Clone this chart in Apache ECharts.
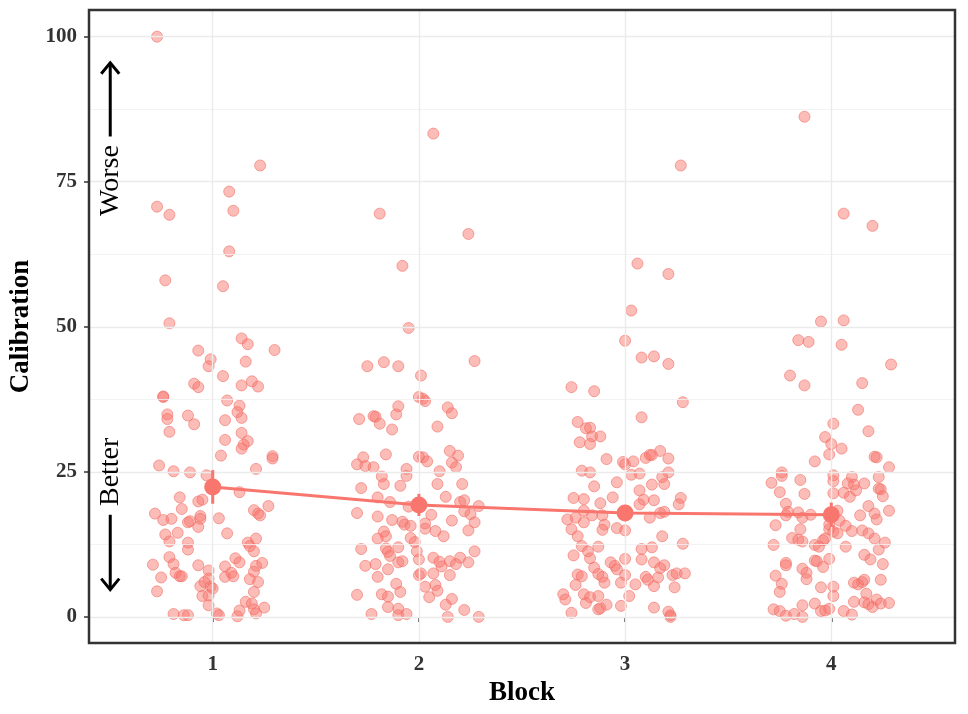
<!DOCTYPE html>
<html>
<head>
<meta charset="utf-8">
<script src="https://cdn.jsdelivr.net/npm/echarts@6/dist/echarts.min.js"></script>
<style>
html, body { margin: 0; background: #fff; }
#chart { width: 968px; height: 714px; }
</style>
</head>
<body>
<div id="chart"></div>
<script>
// jittered points per block: [x, calibration]
var block1 = [
  [0.73,100],[0.73,70.7],[0.79,69.3],[1.08,73.3],[1.10,70.0],[1.23,77.8],[1.08,63.0],[0.77,58.0],[1.05,57.0],
  [0.79,50.6],[1.14,48.0],[1.17,47.0],[1.30,46.0],[0.93,45.9],[0.99,44.4],[0.98,43.2],[1.16,44.0],[1.05,41.5],[0.91,40.2],
  [0.93,39.6],[1.14,39.9],[1.19,40.6],[1.22,39.7],[0.76,38.0],[0.76,37.9],[1.07,37.3],[1.13,36.4],[1.12,35.3],[1.14,34.3],
  [0.78,34.9],[0.78,34.1],[0.88,34.7],[0.91,33.2],[1.06,33.9],[0.79,31.9],[1.14,31.7],[1.06,30.5],[1.17,30.3],[1.15,29.7],
  [1.14,29.0],[1.04,27.8],[1.29,27.7],[1.29,27.3],[0.74,26.1],[0.81,25.1],[0.89,24.9],[1.21,25.5],[0.97,24.4],[1.13,21.5],
  [0.84,20.6],[0.93,19.9],[0.95,20.2],[0.85,18.6],[0.72,17.8],[0.76,16.7],[0.80,16.9],[0.88,16.3],[0.89,16.5],[0.94,17.4],
  [0.94,16.9],[0.93,15.5],[1.03,17.0],[1.20,18.4],[1.22,17.8],[1.23,17.5],[1.27,19.1],[0.77,14.2],[0.79,13.0],[0.83,14.5],
  [0.88,12.8],[0.88,11.6],[1.07,14.4],[1.17,12.8],[1.18,12.2],[1.20,11.3],[1.21,13.5],[0.79,10.3],[0.81,9.1],[0.71,9.0],
  [0.93,8.9],[0.75,6.8],[0.82,7.6],[0.84,7.0],[0.85,7.0],[0.98,8.0],[1.06,8.7],[1.11,10.1],[1.13,9.4],[1.21,8.8],
  [1.24,9.3],[1.20,7.8],[1.06,6.9],[1.09,7.6],[1.10,7.0],[1.18,6.5],[1.22,6.0],[0.98,6.6],[0.96,6.0],[0.94,5.3],
  [0.99,5.2],[1.00,4.9],[0.73,4.4],[0.95,3.6],[0.98,3.7],[1.20,4.3],[0.98,2.0],[1.16,2.6],[1.19,2.3],[1.20,1.3],
  [1.25,1.6],[1.13,1.1],[1.12,0.1],[1.21,0.6],[0.81,0.5],[0.86,0.3],[0.88,0.3],[1.02,0.6],[1.03,0.3]
];
var block2 = [
  [2.07,83.3],[1.81,69.5],[1.92,60.5],[2.24,66.0],
  [1.95,49.8],[1.75,43.2],[1.83,43.9],[1.90,43.2],[2.27,44.1],[2.01,41.6],[2.00,37.9],[2.02,37.6],[2.03,37.2],[1.90,36.3],
  [1.89,34.9],[1.71,34.1],[1.78,34.6],[1.79,34.5],[1.81,33.3],[1.87,32.3],[2.09,32.8],[2.14,36.1],[2.16,35.1],[2.15,28.6],
  [2.19,27.8],[2.16,26.6],[2.18,25.8],[1.84,28.0],[1.73,27.5],[1.70,26.3],[1.74,26.0],[1.78,25.8],[2.00,27.6],[2.02,27.5],
  [2.04,26.8],[1.94,25.5],[1.94,24.3],[1.82,24.2],[1.83,22.9],[2.10,25.1],[1.91,22.6],[2.09,22.9],[2.21,22.9],[1.72,22.2],
  [2.13,20.7],[1.80,20.6],[1.86,19.8],[1.95,19.0],[2.20,19.8],[2.22,20.1],[2.29,19.1],[2.22,18.2],[2.25,17.7],[2.06,17.6],
  [1.70,17.9],[1.80,17.3],[1.87,16.7],[1.92,16.4],[1.93,15.9],[1.96,15.7],[2.03,16.1],[2.03,15.2],[2.08,14.8],[2.12,13.9],
  [2.16,16.6],[2.27,16.3],[2.24,14.9],[1.83,14.7],[1.84,13.9],[1.80,13.5],[1.96,13.6],[1.98,12.9],[1.72,11.7],[1.84,11.8],
  [1.85,11.2],[1.90,12.0],[1.99,11.3],[2.27,11.3],[1.86,10.5],[1.90,9.4],[1.92,9.6],[2.00,9.9],[2.07,10.2],[2.10,9.5],
  [2.11,8.7],[2.15,9.6],[2.18,9.1],[2.20,10.2],[2.24,9.4],[1.74,8.8],[1.79,9.1],[1.85,8.2],[1.80,6.9],[2.00,7.2],
  [2.01,7.5],[2.07,7.5],[2.15,7.2],[1.89,5.7],[1.91,4.3],[2.03,5.2],[2.08,5.5],[2.09,4.5],[1.70,3.8],[1.82,3.9],
  [1.85,3.5],[2.05,3.4],[2.16,3.1],[2.13,2.1],[1.85,1.7],[1.90,1.4],[1.90,0.3],[1.94,0.5],[1.77,0.5],[2.14,0.0],
  [2.22,1.2],[2.29,0.0]
];
var block3 = [
  [3.27,77.8],[3.06,60.9],[3.21,59.1],[3.03,52.8],
  [3.00,47.6],[3.08,44.7],[3.14,44.9],[3.21,43.6],[2.74,39.6],[2.85,38.9],[3.28,37.0],[3.08,34.4],[2.77,33.6],[2.81,32.5],
  [2.83,32.6],[2.84,31.1],[2.88,31.1],[2.78,30.1],[2.83,29.8],[2.91,27.2],[2.99,26.7],[3.00,26.3],[3.04,26.8],[3.10,27.4],
  [3.12,27.9],[3.13,27.9],[3.17,28.6],[3.21,27.3],[2.79,25.2],[2.83,24.9],[3.03,24.5],[3.07,24.7],[3.21,24.9],[3.18,24.1],
  [3.19,22.9],[2.96,23.2],[2.85,22.5],[3.13,22.8],[3.07,21.8],[2.75,20.5],[2.80,20.3],[2.94,20.6],[3.09,20.2],[3.14,20.1],
  [3.27,20.5],[3.26,19.4],[2.88,19.6],[3.07,19.4],[2.80,18.3],[3.17,17.9],[3.19,18.1],[2.72,16.8],[2.76,17.1],[2.80,16.3],
  [2.84,17.5],[2.89,17.5],[2.90,15.9],[2.89,15.0],[2.96,15.3],[3.00,14.9],[3.12,17.1],[2.74,15.1],[2.77,13.9],[3.18,13.9],
  [2.79,12.2],[2.82,11.3],[2.87,12.1],[3.08,11.7],[3.13,12.0],[3.28,12.6],[2.75,10.6],[2.83,10.1],[3.00,10.0],[3.08,9.9],
  [2.93,9.4],[2.95,8.8],[3.14,9.4],[3.19,8.9],[3.17,8.4],[2.85,8.5],[2.96,8.2],[2.77,7.3],[2.79,7.0],[2.87,7.4],
  [2.89,6.9],[3.00,7.2],[2.98,5.9],[2.90,5.9],[3.05,5.6],[3.10,6.9],[3.11,6.4],[3.16,6.8],[3.23,7.2],[3.25,7.5],
  [3.29,7.5],[2.76,5.5],[3.14,5.3],[3.24,5.1],[2.70,3.9],[2.71,3.0],[2.80,3.9],[2.83,3.4],[2.81,2.4],[2.87,3.6],
  [3.02,3.6],[2.91,2.1],[2.98,1.9],[2.87,1.3],[2.88,1.5],[2.74,0.7],[3.14,1.6],[3.21,0.9],[3.22,0.3],[3.22,0.0]
];
var block4 = [
  [3.87,86.2],[4.06,69.5],[4.20,67.4],
  [3.95,50.9],[4.06,51.1],[3.84,47.7],[3.89,47.4],[4.05,46.9],[4.29,43.5],[3.80,41.6],[3.87,39.9],[4.15,40.3],[4.13,35.7],
  [4.01,33.3],[4.18,32.0],[3.97,31.0],[4.00,29.8],[4.05,29.0],[3.99,28.0],[4.21,27.6],[4.22,27.5],[3.92,26.8],[4.28,25.8],
  [3.76,24.9],[3.76,24.3],[3.71,23.1],[3.85,23.6],[4.01,24.4],[4.01,23.4],[4.10,24.1],[4.08,23.0],[4.11,22.8],[4.16,23.0],
  [4.23,24.1],[4.23,22.1],[4.24,22.0],[4.25,20.8],[3.75,21.5],[3.87,21.2],[4.01,21.3],[4.06,21.4],[4.12,21.8],[4.09,20.7],
  [3.78,19.5],[4.18,19.1],[3.79,18.1],[3.84,18.0],[3.86,17.1],[3.90,17.6],[3.78,17.5],[4.03,18.3],[4.14,17.5],[4.21,17.8],
  [4.22,16.8],[4.28,18.3],[3.73,15.8],[3.99,15.9],[4.04,16.6],[4.07,15.7],[3.85,15.1],[3.99,15.1],[4.01,14.7],[4.03,14.4],
  [4.10,14.8],[4.15,14.9],[4.18,14.4],[4.21,13.5],[3.81,13.6],[3.84,13.3],[3.86,13.0],[3.97,13.5],[3.96,13.2],[3.72,12.4],
  [3.92,12.4],[3.94,12.1],[4.07,12.1],[4.26,12.8],[4.23,11.6],[4.16,10.7],[4.19,9.9],[4.25,9.1],[3.99,10.0],[3.92,9.7],
  [3.93,9.6],[3.96,8.6],[3.78,9.3],[3.78,8.9],[3.86,8.3],[3.88,7.6],[3.88,6.5],[3.73,7.1],[3.76,5.7],[3.75,4.3],
  [3.95,5.1],[4.01,5.2],[4.01,3.6],[4.11,5.9],[4.13,5.6],[4.15,6.0],[4.16,6.4],[4.24,6.4],[4.17,4.0],[4.11,2.6],
  [4.16,2.5],[4.18,2.2],[4.20,1.7],[4.22,3.0],[4.24,2.3],[4.28,2.4],[3.86,2.0],[3.92,2.3],[3.72,1.3],[3.75,1.0],
  [3.78,0.2],[3.82,0.5],[3.86,0.0],[3.95,1.0],[3.97,1.1],[3.99,1.4],[4.06,1.0],[4.10,0.4]
];

var blocks = [1, 2, 3, 4];
var blockMeans = [22.4, 19.3, 17.9, 17.6];
var blockErrors = [2.9, 1.9, 1.4, 2.1];
var yTicks = [0, 25, 50, 75, 100];
var yMinorGrid = [12.5, 37.5, 62.5, 87.5];

var RED = '#F8766D';
var SERIF = '"Liberation Serif", "Times New Roman", serif';

var chart = echarts.init(document.getElementById('chart'), null, { renderer: 'canvas' });

function pointSeries(data) {
  return {
    type: 'scatter',
    data: data,
    symbolSize: 11,
    itemStyle: {
      color: 'rgba(248,118,109,0.6)',
      borderColor: 'rgba(240,110,100,0.75)',
      borderWidth: 1
    },
    z: 3,
    silent: true
  };
}

var gridLines = [];
yTicks.forEach(function (v) {
  gridLines.push({ yAxis: v, lineStyle: { type: 'solid', color: '#EBEBEB', width: 1.4 } });
});
yMinorGrid.forEach(function (v) {
  gridLines.push({ yAxis: v, lineStyle: { type: 'solid', color: '#F0F0F0', width: 0.8 } });
});
blocks.forEach(function (v) {
  gridLines.push({ xAxis: v, lineStyle: { type: 'solid', color: '#EBEBEB', width: 1.4 } });
});

var meanData = blocks.map(function (b, i) { return [b, blockMeans[i]]; });
var errData = blocks.map(function (b, i) {
  return [b, blockMeans[i] - blockErrors[i], blockMeans[i] + blockErrors[i]];
});

var option = {
  animation: false,
  backgroundColor: '#fff',
  grid: {
    left: 89, right: 13, top: 10, bottom: 71,
    outerBoundsMode: 'none',
    containLabel: false,
    show: true,
    borderColor: '#333',
    borderWidth: 2.5,
    backgroundColor: 'transparent',
    z: 10
  },
  xAxis: {
    type: 'value',
    min: 0.4,
    max: 4.6,
    name: 'Block',
    nameLocation: 'middle',
    nameGap: 37,
    nameTextStyle: { fontFamily: SERIF, fontWeight: 'bold', fontSize: 27, color: '#000' },
    axisLine: { show: false },
    axisTick: { show: true, length: 5, customValues: blocks, lineStyle: { color: '#333', width: 1.5 } },
    axisLabel: {
      customValues: blocks,
      margin: 11,
      fontFamily: SERIF, fontWeight: 'bold', fontSize: 21, color: '#333'
    },
    splitLine: { show: false }
  },
  yAxis: {
    type: 'value',
    min: -4.5,
    max: 104.6,
    name: 'Calibration',
    nameLocation: 'middle',
    nameGap: 52,
    nameRotate: 90,
    nameTextStyle: { fontFamily: SERIF, fontWeight: 'bold', fontSize: 27, color: '#000' },
    axisLine: { show: false },
    axisTick: { show: true, length: 5, customValues: yTicks, lineStyle: { color: '#333', width: 1.5 } },
    axisLabel: {
      customValues: yTicks,
      margin: 12,
      fontFamily: SERIF, fontWeight: 'bold', fontSize: 21, color: '#333'
    },
    splitLine: { show: false }
  },
  series: [
    {
      type: 'line',
      data: [],
      silent: true,
      markLine: {
        silent: true,
        symbol: ['none', 'none'],
        label: { show: false },
        data: gridLines
      },
      z: 1
    },
    pointSeries(block1),
    pointSeries(block2),
    pointSeries(block3),
    pointSeries(block4),
    {
      type: 'custom',
      data: errData,
      z: 5,
      silent: true,
      renderItem: function (params, api) {
        var lo = api.coord([api.value(0), api.value(1)]);
        var hi = api.coord([api.value(0), api.value(2)]);
        return {
          type: 'line',
          shape: { x1: lo[0], y1: lo[1], x2: hi[0], y2: hi[1] },
          style: { stroke: RED, lineWidth: 3 }
        };
      }
    },
    {
      type: 'line',
      data: meanData,
      symbol: 'circle',
      symbolSize: 17,
      lineStyle: { color: RED, width: 3 },
      itemStyle: { color: RED },
      z: 6,
      silent: true
    }
  ]
};

chart.setOption(option);

// "Worse" / "Better" annotations placed in data space
function arrow(x, yFrom, yTo) {
  var a = chart.convertToPixel({ gridIndex: 0 }, [x, yFrom]);
  var b = chart.convertToPixel({ gridIndex: 0 }, [x, yTo]);
  var dir = b[1] < a[1] ? 1 : -1;
  return [
    { type: 'polyline', shape: { points: [a, b] }, style: { stroke: '#000', lineWidth: 3, fill: null }, z: 20 },
    { type: 'polyline', shape: { points: [[b[0] - 9, b[1] + dir * 11], [b[0], b[1]], [b[0] + 9, b[1] + dir * 11]] },
      style: { stroke: '#000', lineWidth: 3, fill: null, lineJoin: 'miter' }, z: 20 }
  ];
}
function label(text, x, y) {
  var p = chart.convertToPixel({ gridIndex: 0 }, [x, y]);
  return {
    type: 'text', x: p[0], y: p[1], rotation: Math.PI / 2, z: 20,
    style: { text: text, fontFamily: SERIF, fontSize: 28, fill: '#000', align: 'center', verticalAlign: 'middle' }
  };
}
var ax = 0.503;
chart.setOption({
  graphic: [].concat(
    arrow(ax, 82.8, 95.5),
    [label('Worse', ax, 75.2)],
    [label('Better', ax, 25.0)],
    arrow(ax, 17.6, 4.7)
  )
});
</script>
</body>
</html>
